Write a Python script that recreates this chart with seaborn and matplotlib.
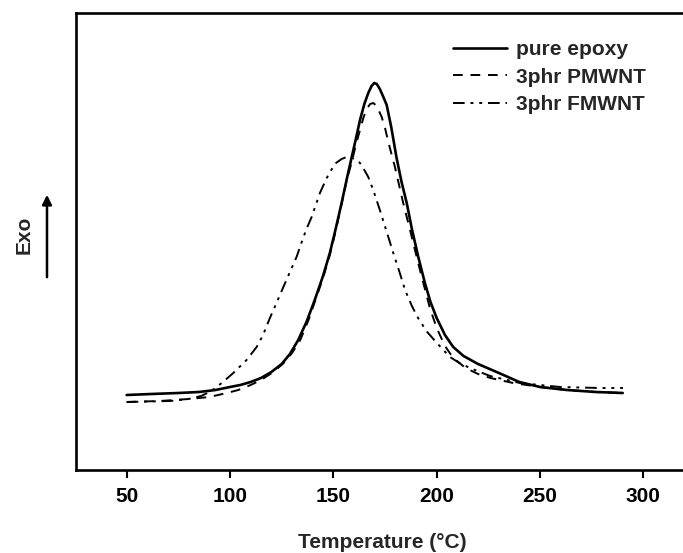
import matplotlib
matplotlib.use("Agg")
import matplotlib.pyplot as plt
import seaborn as sns
import pandas as pd

# Temperature (°C) and heat flow (arbitrary units, exo up)
temp_pure = [50, 62, 75, 85, 93, 100, 105, 110, 115, 120, 125, 129, 133, 137, 141, 145, 148.3, 151,
             154, 156.5, 158.9, 161, 162.9, 165, 166.9, 168.5, 169.8, 171, 172.5, 174, 175.8, 178,
             180.6, 183, 185.5, 188, 191.1, 194.3, 197, 200, 204, 208, 213, 220, 229, 240, 250, 263,
             277, 290]
heat_pure = [75, 76, 77, 78, 80, 83, 85, 88, 92, 98, 106, 116, 130, 148, 170, 194, 217, 240,
             267, 291, 313, 332, 350, 366, 377, 384, 387, 386, 381, 374, 365, 343,
             312, 288, 267, 241, 213, 187, 168, 152, 135, 123, 114, 106, 98, 88, 83, 80,
             78, 77]

temp_pmwnt = [50, 66, 80, 90, 98.5, 104, 110, 115, 121, 126, 130, 134, 138, 141, 145, 148.3, 151,
              154, 156.5, 158.9, 161, 162.9, 164.5, 166.1, 167.8, 169.3, 171, 173.4, 175, 176.6,
              179.8, 183.8, 187.1, 191.9, 196.7, 200, 204, 208, 214, 220, 226, 237, 250, 263, 277, 290]
heat_pmwnt = [68, 69, 71, 73, 77, 80, 85, 90, 98, 107, 117, 130, 150, 168, 192, 215, 238,
              266, 290, 308, 326, 340, 352, 361, 366, 367, 364, 353, 342, 328,
              303, 267, 240, 200, 162, 142, 124, 112, 102, 96, 92, 87, 83, 80, 78, 77]

temp_fmwnt = [50, 71, 80, 86, 91, 96, 101.6, 108, 112.9, 116, 119.3, 122.5, 125.6, 129, 132.2,
              134.7, 137, 139.5, 141.5, 143.5, 146.8, 149, 151.3, 154, 156.4, 158.5, 160.4, 162.9,
              165, 166.9, 169.3, 172.5, 176.6, 179, 182, 184.7, 188, 191, 195, 200.1, 206.4, 211,
              216.1, 225.8, 240.3, 259.7, 279, 290.1]
heat_fmwnt = [68, 69, 71, 74, 79, 87, 97, 110, 123, 135, 152, 167, 182, 198, 213,
              228, 241, 253, 265, 277, 292, 300, 307, 311, 313, 312.5, 311, 307,
              300, 293, 280, 260, 233, 217, 198, 180, 164, 152, 139, 127, 113, 107,
              102, 94, 87, 83, 82, 82]

labels = ["pure epoxy", "3phr PMWNT", "3phr FMWNT"]
xticks = [50, 100, 150, 200, 250, 300]

sns.set_theme(style="ticks")
plt.rcParams["font.family"] = ["Liberation Sans", "DejaVu Sans"]
plt.rcParams["font.weight"] = "bold"

fig = plt.figure(figsize=(6.83, 5.53), dpi=100)
ax = fig.add_axes([76 / 683, 83 / 553, (705.4 - 76) / 683, (470 - 13) / 553])

sns.lineplot(x=temp_pure, y=heat_pure, ax=ax, color="black", linewidth=1.9,
             label=labels[0], sort=False)
sns.lineplot(x=temp_pmwnt, y=heat_pmwnt, ax=ax, color="black", linewidth=1.4,
             linestyle=(0, (5, 4)), label=labels[1], sort=False)
sns.lineplot(x=temp_fmwnt, y=heat_fmwnt, ax=ax, color="black", linewidth=1.4,
             linestyle=(0, (6, 3, 1.5, 3, 1.5, 3)), label=labels[2], sort=False)

ax.set_xlim(25.5, 330)
ax.set_ylim(0, 457)
ax.set_xticks(xticks)
ax.set_xticklabels([str(t) for t in xticks], fontsize=15, fontweight="bold")
ax.set_yticks([])
ax.tick_params(axis="x", direction="out", length=6, width=1.5, pad=6, colors="black")
for s in ax.spines.values():
    s.set_linewidth(1.9)
    s.set_color("black")
    s.set_visible(True)

ax.set_xlabel("Temperature (°C)", fontsize=15, fontweight="bold", va="center")
ax.xaxis.set_label_coords(0.486, -(542 - 470) / 457)
ax.set_ylabel("")

leg = ax.legend(loc="upper left", bbox_to_anchor=(453 / 683, 1 - 40 / 553),
                bbox_transform=fig.transFigure, frameon=False, fontsize=15,
                handlelength=2.6, handletextpad=0.4, labelspacing=0.42,
                borderpad=0, borderaxespad=0)
for t in leg.get_texts():
    t.set_fontweight("bold")

fig.text(24 / 683, 1 - 235 / 553, "Exo", rotation=90, ha="center", va="center",
         fontsize=15, fontweight="bold")
ax.annotate("", xy=(47, 553 - 192), xytext=(47, 553 - 280),
            xycoords="figure pixels", textcoords="figure pixels",
            arrowprops=dict(arrowstyle="-|>", color="black", lw=1.8,
                            mutation_scale=14))

fig.savefig("out.png", dpi=100)
